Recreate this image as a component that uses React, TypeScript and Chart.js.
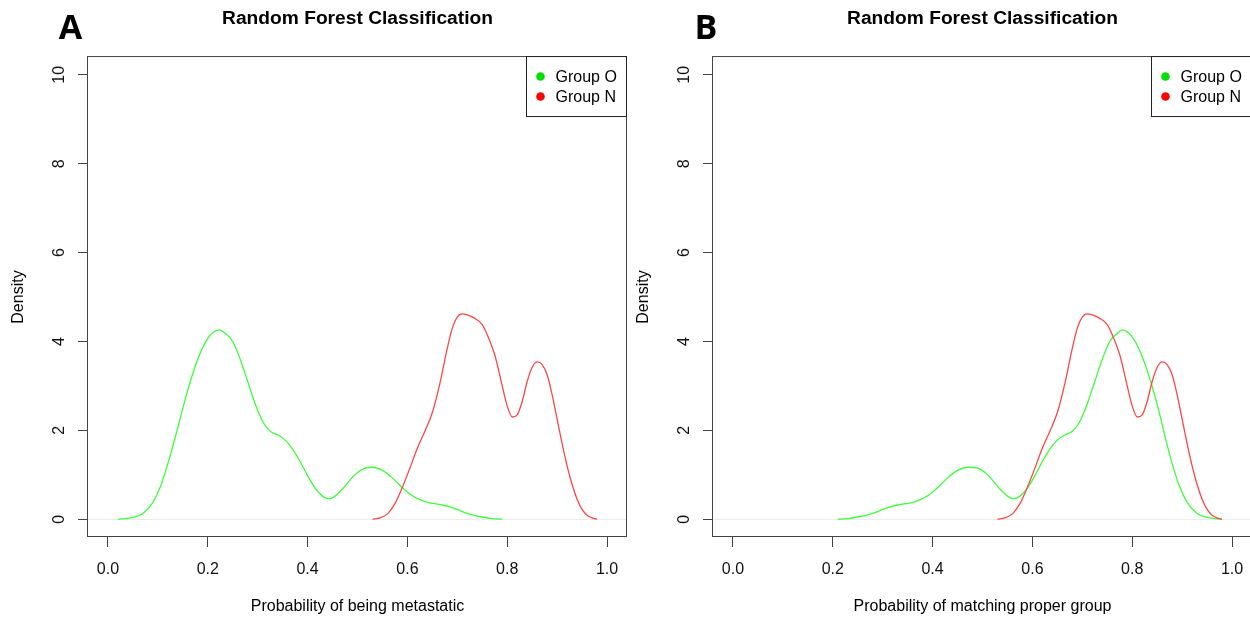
import React, { useEffect, useRef } from 'react';
import { Chart, registerables } from 'chart.js';

Chart.register(...registerables);
Chart.defaults.font.family = '"Liberation Sans", Arial, sans-serif';
Chart.defaults.color = '#000';

// ---- data ----
const xTicks = [0, 0.2, 0.4, 0.6, 0.8, 1.0];
const yTicks = [0, 2, 4, 6, 8, 10];
const seriesNames = ['Group O', 'Group N'];
const panelTitles = ['Random Forest Classification', 'Random Forest Classification'];
const panelLetters = ['A', 'B'];
const xAxisTitles = ['Probability of being metastatic', 'Probability of matching proper group'];
const yAxisTitle = 'Density';

// Panel A, Group O
const groupOAX = [0.02, 0.05, 0.07, 0.09, 0.105, 0.12, 0.135, 0.15, 0.165, 0.18, 0.195, 0.21, 0.223, 0.235, 0.25, 0.265, 0.28, 0.295, 0.31, 0.325, 0.34, 0.355, 0.37, 0.385, 0.40, 0.415, 0.43, 0.443, 0.455, 0.47, 0.485, 0.50, 0.515, 0.53, 0.55, 0.565, 0.58, 0.595, 0.61, 0.625, 0.64, 0.655, 0.67, 0.685, 0.70, 0.715, 0.73, 0.75, 0.77, 0.79];
const groupOAY = [0.0, 0.04, 0.13, 0.38, 0.73, 1.25, 1.85, 2.5, 3.1, 3.6, 3.98, 4.2, 4.26, 4.18, 4.0, 3.6, 3.1, 2.6, 2.2, 1.98, 1.9, 1.78, 1.58, 1.3, 0.98, 0.7, 0.52, 0.46, 0.52, 0.68, 0.88, 1.05, 1.15, 1.17, 1.1, 0.98, 0.82, 0.66, 0.53, 0.44, 0.38, 0.35, 0.32, 0.28, 0.22, 0.15, 0.1, 0.05, 0.015, 0.0];

// Group N (same in both panels)
const groupNX = [0.53, 0.545, 0.56, 0.575, 0.59, 0.605, 0.62, 0.635, 0.65, 0.665, 0.68, 0.69, 0.70, 0.71, 0.72, 0.735, 0.75, 0.76, 0.775, 0.79, 0.80, 0.81, 0.82, 0.83, 0.84, 0.85, 0.86, 0.87, 0.88, 0.89, 0.90, 0.91, 0.92, 0.93, 0.94, 0.95, 0.96, 0.97, 0.98];
const groupNY = [0.0, 0.03, 0.12, 0.35, 0.72, 1.15, 1.6, 1.98, 2.4, 3.05, 3.85, 4.3, 4.55, 4.62, 4.6, 4.52, 4.38, 4.15, 3.7, 3.0, 2.55, 2.3, 2.35, 2.65, 3.1, 3.42, 3.54, 3.48, 3.25, 2.8, 2.25, 1.7, 1.2, 0.78, 0.45, 0.22, 0.09, 0.03, 0.0];

// Panel B, Group O
const groupOBX = [0.21, 0.23, 0.25, 0.27, 0.285, 0.30, 0.315, 0.33, 0.345, 0.36, 0.375, 0.39, 0.405, 0.42, 0.435, 0.45, 0.472, 0.49, 0.505, 0.52, 0.535, 0.55, 0.562, 0.575, 0.59, 0.605, 0.62, 0.635, 0.65, 0.665, 0.68, 0.695, 0.71, 0.725, 0.74, 0.755, 0.77, 0.78, 0.792, 0.807, 0.822, 0.837, 0.852, 0.866, 0.88, 0.895, 0.91, 0.93, 0.95, 0.98];
const groupOBY = [0.0, 0.015, 0.05, 0.1, 0.15, 0.22, 0.28, 0.32, 0.35, 0.38, 0.44, 0.53, 0.66, 0.82, 0.98, 1.1, 1.17, 1.15, 1.05, 0.88, 0.68, 0.52, 0.46, 0.52, 0.7, 0.98, 1.3, 1.58, 1.78, 1.9, 1.98, 2.2, 2.6, 3.1, 3.6, 4.0, 4.18, 4.26, 4.2, 3.98, 3.6, 3.1, 2.5, 1.85, 1.25, 0.73, 0.38, 0.13, 0.04, 0.0];

const panelSeriesX = [[groupOAX, groupNX], [groupOBX, groupNX]];
const panelSeriesY = [[groupOAY, groupNY], [groupOBY, groupNY]];

// ---- styles ----
const lineColors = ['rgb(60,255,60)', 'rgb(255,70,70)'];
const dotColors = ['#00e000', '#ff0000'];
const letterX = [70.5, 81];
const CANVAS_W = 715;
const CANVAS_H = 620;

const decorPlugin = {
  id: 'decor',
  afterDraw(chart: any, _args: any, opts: any) {
    const { ctx, chartArea: ca } = chart;
    const ys = chart.scales.y;
    ctx.save();
    // rotated y tick labels
    ctx.font = '16px "Liberation Sans"';
    ctx.fillStyle = '#111';
    ctx.textAlign = 'center';
    ctx.textBaseline = 'middle';
    yTicks.forEach((v) => {
      const py = ys.getPixelForValue(v);
      ctx.save();
      ctx.translate(ca.left - 28, py);
      ctx.rotate(-Math.PI / 2);
      ctx.fillText(String(v), 0, 0);
      ctx.restore();
    });
    // plot box
    ctx.strokeStyle = '#444';
    ctx.lineWidth = 1;
    ctx.strokeRect(ca.left - 0.5, ca.top - 0.5, ca.right - ca.left, ca.bottom - ca.top);
    // legend
    const lw = 100, lh = 60;
    const lx = ca.right - lw - 0.5, ly = ca.top - 0.5;
    ctx.fillStyle = '#fff';
    ctx.fillRect(lx, ly, lw, lh);
    ctx.strokeStyle = '#222';
    ctx.strokeRect(lx, ly, lw, lh);
    ctx.textAlign = 'left';
    ctx.textBaseline = 'middle';
    chart.data.datasets.forEach((ds: any, i: number) => {
      const cy = ly + 20 + i * 20;
      ctx.fillStyle = dotColors[i];
      ctx.beginPath();
      ctx.arc(lx + 14, cy, 4.3, 0, Math.PI * 2);
      ctx.fill();
      ctx.fillStyle = '#000';
      ctx.fillText(ds.label, lx + 29, cy + 1);
    });
    // panel letter
    ctx.font = 'bold 34px "Open Sans"';
    ctx.textAlign = 'center';
    ctx.textBaseline = 'alphabetic';
    ctx.fillStyle = '#000';
    ctx.fillText(opts.letter, opts.letterX, 39);
    ctx.restore();
  },
};

function Panel({ index, left }: { index: number; left: number }) {
  const ref = useRef<HTMLCanvasElement | null>(null);
  useEffect(() => {
    if (!ref.current) return;
    const datasets = seriesNames.map((name, i) => ({
      label: name,
      data: panelSeriesX[index][i].map((x, k) => ({ x, y: panelSeriesY[index][i][k] })),
      borderColor: lineColors[i],
      backgroundColor: lineColors[i],
      borderWidth: 1.3,
      pointRadius: 0,
      fill: false,
      cubicInterpolationMode: 'monotone' as const,
      order: i === 0 ? 1 : 0,
    }));
    const chart = new Chart(ref.current, {
      type: 'line',
      data: { datasets },
      plugins: [decorPlugin],
      options: {
        responsive: false,
        animation: false,
        events: [],
        layout: { padding: 0 },
        plugins: {
          legend: { display: false },
          tooltip: { enabled: false },
          title: {
            display: true,
            text: panelTitles[index],
            font: { size: 19.2, weight: 'bold' },
            color: '#000',
            padding: { top: 7.3, bottom: 26.7 },
          },
          decor: { letter: panelLetters[index], letterX: letterX[index] },
        } as any,
        scales: {
          x: {
            type: 'linear',
            position: 'bottom',
            min: -0.04,
            max: 1.04,
            afterBuildTicks: (s: any) => {
              s.ticks = xTicks.map((v) => ({ value: v }));
            },
            afterFit: (s: any) => {
              s.height = 83;
            },
            grid: { drawOnChartArea: false, drawTicks: true, tickLength: 10, color: '#444' },
            border: { display: false },
            ticks: {
              font: { size: 16 },
              color: '#111',
              padding: 13,
              maxRotation: 0,
              autoSkip: false,
              callback: (v: any) => Number(v).toFixed(1),
            },
            title: {
              display: true,
              text: xAxisTitles[index],
              font: { size: 16 },
              color: '#000',
              padding: { top: 0, bottom: 3.4 },
            },
          },
          y: {
            type: 'linear',
            position: 'left',
            min: -0.4,
            max: 10.4,
            afterBuildTicks: (s: any) => {
              s.ticks = yTicks.map((v) => ({ value: v }));
            },
            afterFit: (s: any) => {
              s.width = 88;
            },
            grid: {
              drawOnChartArea: true,
              drawTicks: true,
              tickLength: 10,
              color: (c: any) => (c.tick && c.tick.value === 0 ? '#ececec' : 'rgba(0,0,0,0)'),
              tickColor: '#444',
            },
            border: { display: false },
            ticks: { display: false },
            title: {
              display: true,
              text: yAxisTitle,
              font: { size: 16 },
              color: '#000',
              padding: { top: 9.4, bottom: 0 },
            },
          },
          yR: {
            type: 'linear',
            position: 'right',
            display: true,
            afterFit: (s: any) => {
              s.width = 88;
            },
            grid: { display: false },
            border: { display: false },
            ticks: { display: false },
          },
        },
      } as any,
    });
    return () => chart.destroy();
  }, [index]);
  return (
    <canvas
      ref={ref}
      width={CANVAS_W}
      height={CANVAS_H}
      style={{ position: 'absolute', left, top: 0, width: CANVAS_W, height: CANVAS_H }}
    />
  );
}

export default function App() {
  return (
    <div
      style={{
        position: 'fixed',
        left: 0,
        top: 0,
        width: 1250,
        height: 620,
        overflow: 'hidden',
        background: '#fff',
      }}
    >
      <Panel index={0} left={0} />
      <Panel index={1} left={625} />
    </div>
  );
}
